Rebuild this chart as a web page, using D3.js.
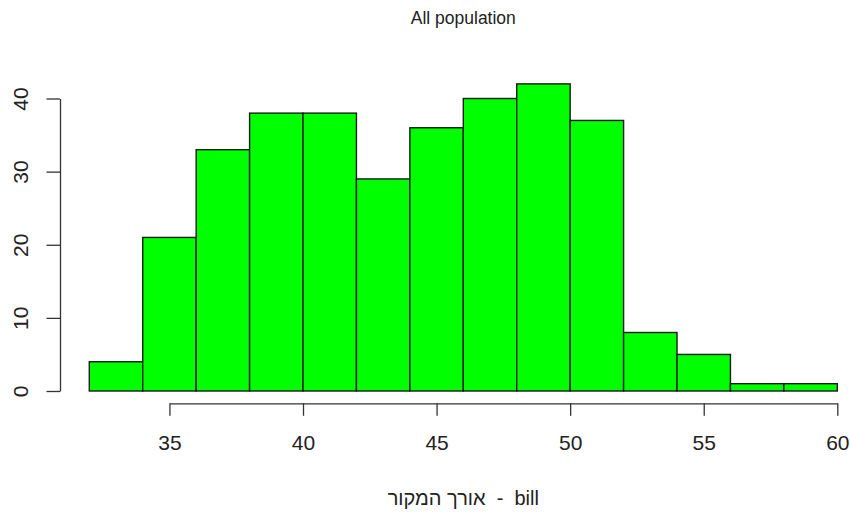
<!DOCTYPE html>
<html lang="he">
<head>
<meta charset="utf-8">
<title>All population</title>
<script src="https://cdn.jsdelivr.net/npm/d3@7"></script>
<style>
  html, body { margin: 0; padding: 0; background: #fff; }
  svg { display: block; font-family: "Liberation Sans", Arial, sans-serif; }
  .axis text { fill: #222; }
  .axis path, .axis line { stroke: #333; stroke-width: 1.3px; }
</style>
</head>
<body>
<svg id="chart" width="850" height="512"></svg>
<script>
// histogram bins (lower edges), counts per bin, tick labels
var binStarts = [32, 34, 36, 38, 40, 42, 44, 46, 48, 50, 52, 54, 56, 58];
var binWidth = 2;
var counts = [4, 21, 33, 38, 38, 29, 36, 40, 42, 37, 8, 5, 1, 1];
var xTicks = [35, 40, 45, 50, 55, 60];
var yTicks = [0, 10, 20, 30, 40];
var chartTitle = "All population";
var xLabel = "אורך המקור  -  bill";

var svg = d3.select("#chart");

var x = d3.scaleLinear().domain([32, 60]).range([89.3, 837.3]);
var y = d3.scaleLinear().domain([0, 40]).range([391, 98.5]);

// bars
svg.append("g")
  .selectAll("rect")
  .data(binStarts)
  .enter().append("rect")
  .attr("x", function(d) { return x(d); })
  .attr("y", function(d, i) { return y(counts[i]); })
  .attr("width", function(d) { return x(d + binWidth) - x(d); })
  .attr("height", function(d, i) { return y(0) - y(counts[i]); })
  .attr("fill", "#00ff00")
  .attr("stroke", "#1a1a1a")
  .attr("stroke-width", 1.4);

// x axis - R style, line only spans first to last tick
var xAxisScale = x.copy()
  .domain([xTicks[0], xTicks[xTicks.length - 1]])
  .range([x(xTicks[0]), x(xTicks[xTicks.length - 1])]);
var gx = svg.append("g")
  .attr("class", "axis")
  .attr("transform", "translate(0,403.3)")
  .call(d3.axisBottom(xAxisScale).tickValues(xTicks).tickSize(12.5).tickSizeOuter(0).tickFormat(d3.format("d")));
gx.selectAll("text")
  .attr("y", 47)
  .attr("dy", 0)
  .style("font-size", "21px");

// y axis, labels turned like R's las=0
var yAxisScale = y.copy();
var gy = svg.append("g")
  .attr("class", "axis")
  .attr("transform", "translate(60,0)")
  .call(d3.axisLeft(yAxisScale).tickValues(yTicks).tickSize(13.5).tickSizeOuter(0).tickFormat(d3.format("d")));
gy.selectAll("text")
  .attr("transform", "rotate(-90)")
  .attr("text-anchor", "middle")
  .attr("x", 0)
  .attr("y", -32)
  .attr("dy", 0)
  .style("font-size", "21px");

gx.select(".domain").attr("fill", "none");
gy.select(".domain").attr("fill", "none");

// title and x label
var cx = x(46);
svg.append("text")
  .attr("x", cx)
  .attr("y", 24)
  .attr("text-anchor", "middle")
  .style("font-size", "17.5px")
  .attr("fill", "#222")
  .text(chartTitle);

svg.append("text")
  .attr("x", cx)
  .attr("y", 505)
  .attr("text-anchor", "middle")
  .attr("direction", "ltr")
  .style("font-size", "20px")
  .style("white-space", "pre")
  .attr("fill", "#222")
  .text(xLabel);
</script>
</body>
</html>
